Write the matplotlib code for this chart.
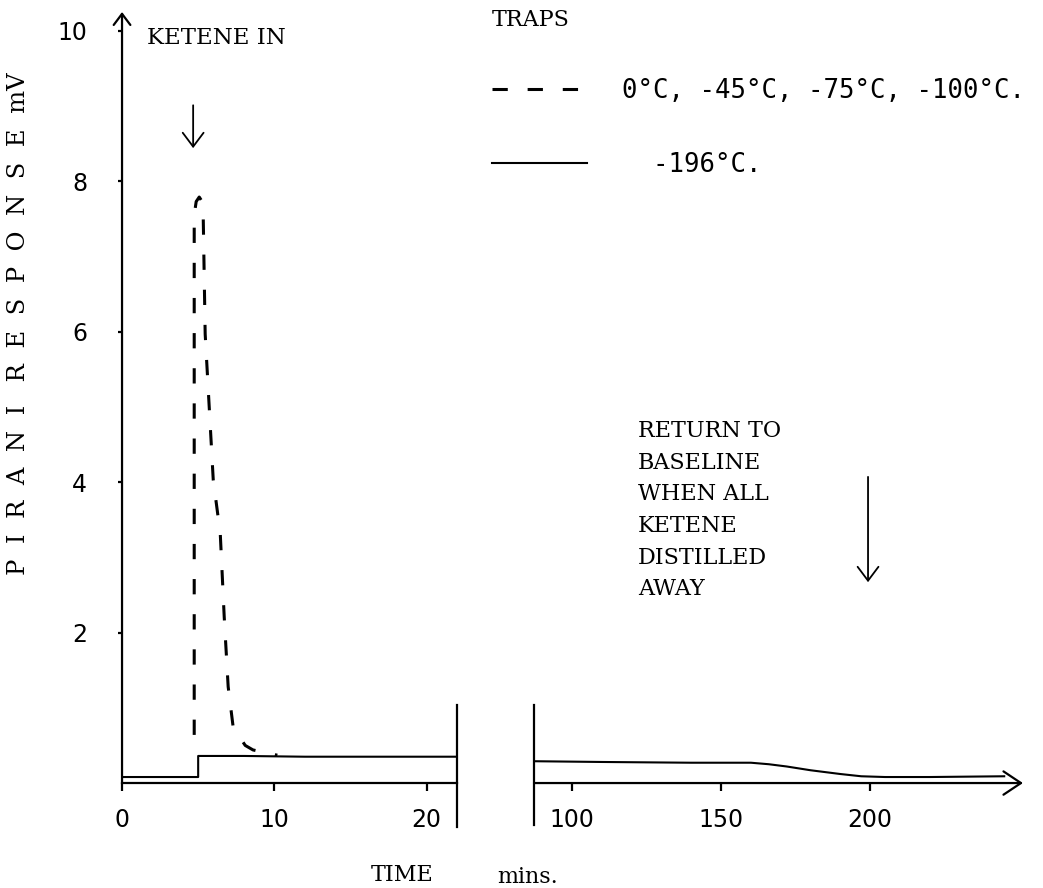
import matplotlib.pyplot as plt

# -196 C trap: solid trace, start of run and end of run
t_early = [0, 5.0, 5.0, 8, 12, 16, 22.0]
mv_early = [0.08, 0.08, 0.36, 0.36, 0.35, 0.35, 0.35]
t_late = [87.2, 110, 140, 160, 166, 172, 180, 190, 197, 205, 220, 245]
mv_late = [0.29, 0.28, 0.27, 0.27, 0.25, 0.22, 0.17, 0.12, 0.09, 0.08, 0.08, 0.09]

# 0, -45, -75, -100 C traps: dashed trace
t_warm = [4.74, 4.74, 4.87, 5.07, 5.26, 5.33, 5.46, 5.99, 6.45, 6.71, 6.97, 7.30, 8.09, 8.6, 10.2]
mv_warm = [0.64, 7.55, 7.73, 7.79, 7.73, 7.55, 5.97, 4.03, 3.32, 2.21, 1.28, 0.74, 0.50, 0.44, 0.37]

yticks = [2, 4, 6, 8, 10]
left_xticks = [0, 10, 20]
right_xticks = [100, 150, 200]
trap_labels = ['0°C, -45°C, -75°C, -100°C.', '  -196°C.']

x_left = (0, 22.0)
x_right = (87.2, 251.3)
y_lim = (0, 10.25)

plt.rcParams['font.family'] = 'DejaVu Serif'
fig = plt.figure(figsize=(10.43, 8.88), dpi=100)
ax1 = fig.add_axes([0.117, 0.1182, 0.3212, 0.8683])
ax2 = fig.add_axes([0.512, 0.1182, 0.4688, 0.8683])

for ax in (ax1, ax2):
    for s in ax.spines.values():
        s.set_visible(False)
    ax.patch.set_alpha(0)
    ax.set_ylim(*y_lim)

ax1.set_xlim(*x_left)
ax2.set_xlim(*x_right)
ax1.spines['bottom'].set_visible(True)
ax1.spines['bottom'].set_linewidth(1.6)

# axis arrows
ax1.annotate('', xy=(0, 1), xytext=(0, 0), xycoords='axes fraction',
             arrowprops=dict(arrowstyle='->,head_length=0.4,head_width=0.3', lw=1.6,
                             mutation_scale=20, shrinkA=0, shrinkB=0))
ax2.annotate('', xy=(1, 0), xytext=(0, 0), xycoords='axes fraction',
             arrowprops=dict(arrowstyle='->,head_length=0.45,head_width=0.3', lw=1.6,
                             mutation_scale=28, shrinkA=0, shrinkB=0))

# break marks
ax1.plot([x_left[1]] * 2, [-0.59, 1.04], color='k', lw=1.6, clip_on=False)
ax2.plot([x_right[0]] * 2, [-0.56, 1.04], color='k', lw=1.6, clip_on=False)

ax1.set_xticks(left_xticks)
ax2.set_xticks(right_xticks)
ax1.set_yticks(yticks)
ax2.set_yticks([])
for ax in (ax1, ax2):
    ax.tick_params(axis='x', direction='out', length=6, width=1.6, pad=12,
                   labelsize=17, labelfontfamily='DejaVu Sans')
ax1.tick_params(axis='y', direction='out', length=3, width=1.6, pad=22,
                labelsize=17, labelfontfamily='DejaVu Sans')

solid, = ax1.plot(t_early, mv_early, color='k', lw=1.5)
ax2.plot(t_late, mv_late, color='k', lw=1.5)
dashed, = ax1.plot(t_warm, mv_warm, color='k', lw=2.2, dashes=(5, 6.5))

# annotations
ax1.text(1.64, 9.91, 'KETENE IN', va='center', fontsize=16.5)
ax1.annotate('', xy=(4.67, 8.44), xytext=(4.67, 9.01),
             arrowprops=dict(arrowstyle='->,head_length=0.4,head_width=0.3', lw=1.3,
                             mutation_scale=25, shrinkA=0, shrinkB=0))
ax2.text(122.1, 4.82, 'RETURN TO\nBASELINE\nWHEN ALL\nKETENE\nDISTILLED\nAWAY',
         va='top', ha='left', fontsize=16, linespacing=1.56)
ax2.annotate('', xy=(199.3, 2.67), xytext=(199.3, 4.07),
             arrowprops=dict(arrowstyle='->,head_length=0.4,head_width=0.3', lw=1.3,
                             mutation_scale=25, shrinkA=0, shrinkB=0))

fig.legend(handles=[dashed, solid], labels=trap_labels, loc='upper left',
           bbox_to_anchor=(0.4717, 0.99), frameon=False, title='TRAPS',
           alignment='left', prop={'family': 'DejaVu Sans Mono', 'size': 18.5},
           title_fontproperties={'family': 'DejaVu Serif', 'size': 16},
           handlelength=3.7, handletextpad=1.36, labelspacing=1.85,
           borderpad=0, borderaxespad=0)

fig.text(19 / 1043, 1 - 324 / 888, 'P  I  R  A  N  I   R  E  S  P  O  N  S  E  mV',
         rotation=90, ha='center', va='center', fontsize=17.5)
fig.text(402 / 1043, 1 - 875 / 888, 'TIME', ha='center', va='center', fontsize=16)
fig.text(497 / 1043, 1 - 877 / 888, 'mins.', ha='left', va='center', fontsize=16)

fig.savefig('out.png', dpi=100, facecolor='white')
